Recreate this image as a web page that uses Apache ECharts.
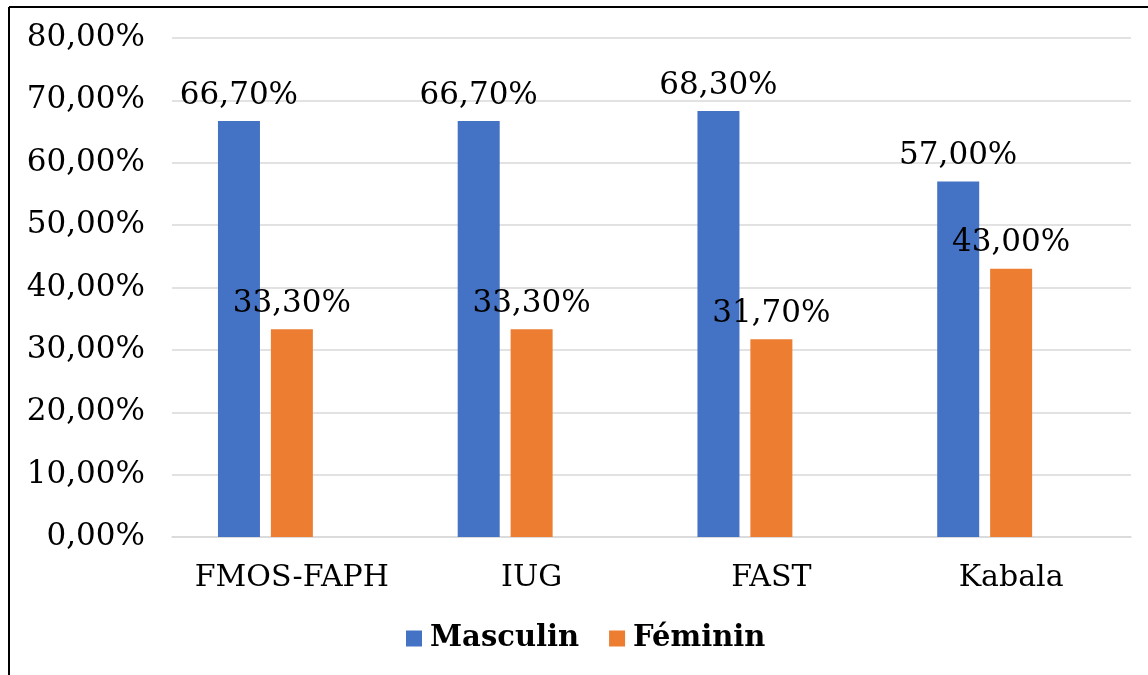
<!DOCTYPE html>
<html>
<head>
<meta charset="utf-8">
<script src="https://cdn.jsdelivr.net/npm/echarts@6/dist/echarts.min.js"></script>
<style>
html,body{margin:0;padding:0;background:#fff;}
#c{width:1148px;height:675px;}
</style>
</head>
<body>
<div id="c"></div>
<script>
const categories = ['FMOS-FAPH', 'IUG', 'FAST', 'Kabala'];
const masculin = [66.7, 66.7, 68.3, 57.0];
const feminin = [33.3, 33.3, 31.7, 43.0];
const emptySeries = [null, null, null, null];
const yTicks = { min: 0, max: 80, interval: 10 };

const fmt = v => Number(v).toFixed(2).replace('.', ',') + '%';
const FONT = 'DejaVu Serif';

const chart = echarts.init(document.getElementById('c'));
const labelCfg = {
  show: true, position: 'top', distance: 10,
  fontFamily: FONT, fontSize: 31, color: '#000',
  formatter: p => fmt(p.value)
};
chart.setOption({
  animation: false,
  backgroundColor: '#fff',
  graphic: [
    { type: 'line', shape: { x1: 9, y1: 7, x2: 1148, y2: 7 }, style: { stroke: '#000', lineWidth: 2 } },
    { type: 'line', shape: { x1: 9, y1: 7, x2: 9, y2: 675 }, style: { stroke: '#000', lineWidth: 2 } }
  ],
  grid: { left: 172, right: 17, top: 38, bottom: 138, containLabel: false },
  legend: {
    data: ['Masculin', 'Féminin'],
    bottom: 17, left: 401,
    icon: 'rect', itemWidth: 16, itemHeight: 16, itemGap: 30,
    textStyle: { fontFamily: FONT, fontWeight: 'bold', fontSize: 29, color: '#000', padding: [0, 0, 0, 3] }
  },
  xAxis: {
    type: 'category', data: categories,
    axisLine: { lineStyle: { color: '#d9d9d9', width: 1.5 } },
    axisTick: { show: false },
    axisLabel: { fontFamily: FONT, fontSize: 30, color: '#000', margin: 26, interval: 0 }
  },
  yAxis: {
    type: 'value', min: yTicks.min, max: yTicks.max, interval: yTicks.interval,
    axisLine: { show: false }, axisTick: { show: false },
    splitLine: { lineStyle: { color: '#d9d9d9', width: 1.5 } },
    axisLabel: { fontFamily: FONT, fontSize: 31, color: '#000', margin: 27, formatter: v => fmt(v) }
  },
  series: [
    { name: 'Masculin', type: 'bar', data: masculin, barWidth: 42, barGap: '26%', itemStyle: { color: '#4472C4' }, label: labelCfg },
    { name: 'Féminin', type: 'bar', data: feminin, barWidth: 42, barGap: '26%', itemStyle: { color: '#ED7D31' }, label: labelCfg },
    { name: 'hidden', type: 'bar', data: emptySeries, barWidth: 42, barGap: '26%', itemStyle: { color: 'transparent' } }
  ]
});
</script>
</body>
</html>
